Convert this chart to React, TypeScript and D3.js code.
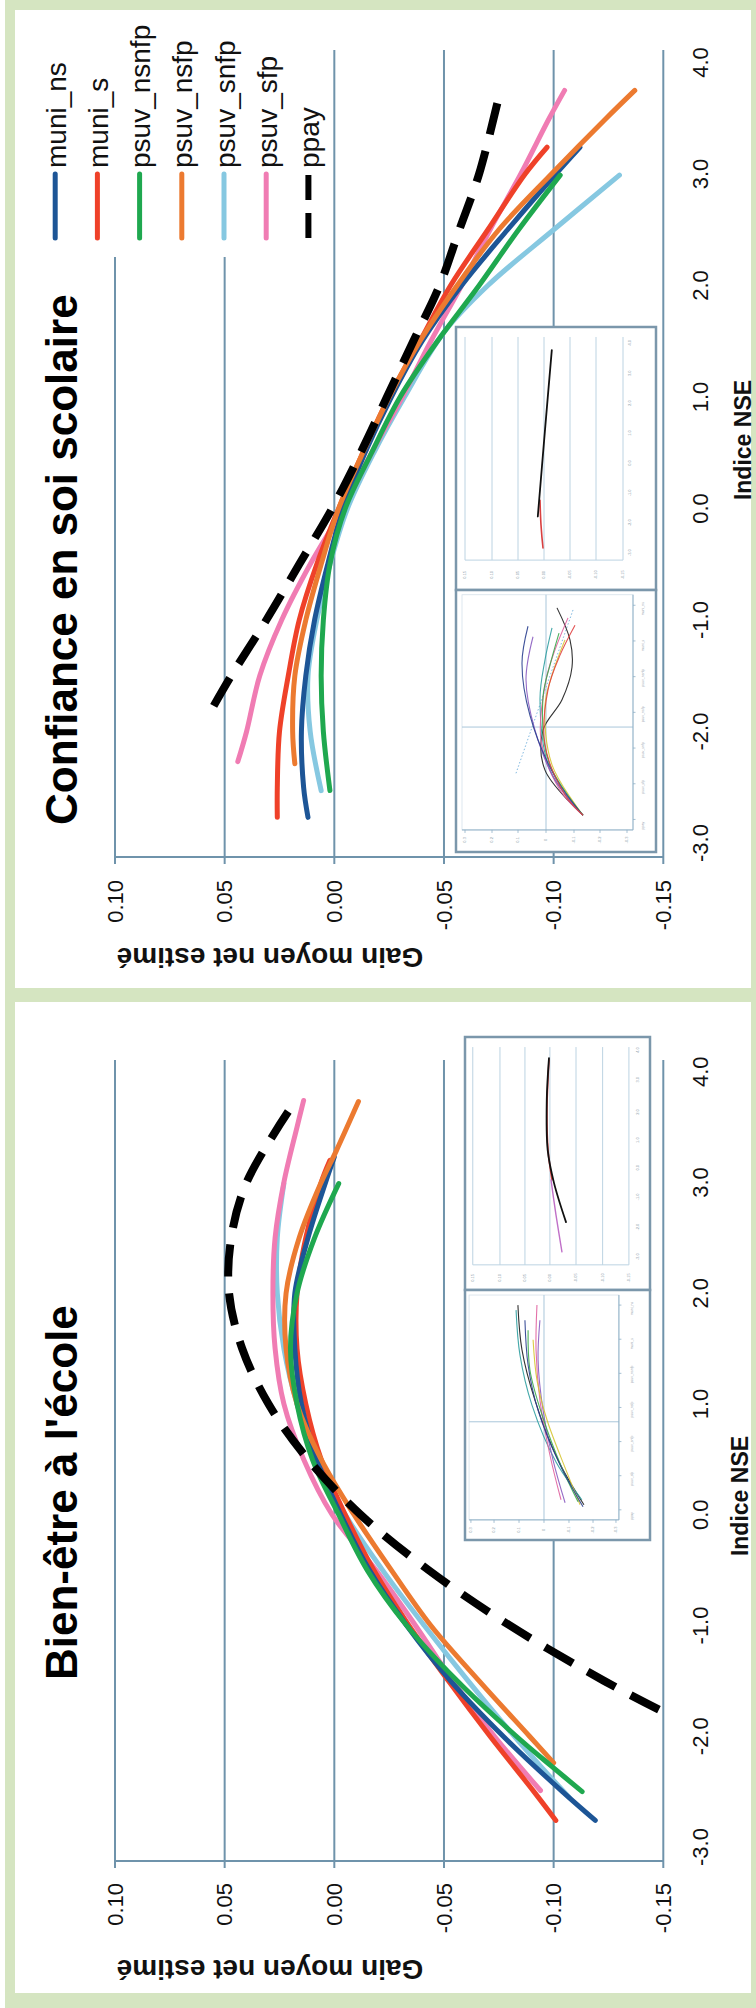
import React from 'react';
import * as d3 from 'd3';

const WIDTH = 756;
const HEIGHT = 2008;
const FONT = "'Liberation Sans', Arial, Helvetica, sans-serif";

type Pt = [number, number];

const NSE_TICKS = [-3, -2, -1, 0, 1, 2, 3, 4];
const GAIN_TICKS = [0.1, 0.05, 0, -0.05, -0.1, -0.15];

const SERIES_NAMES = ['muni_ns', 'muni_s', 'psuv_nsnfp', 'psuv_nsfp', 'psuv_snfp', 'psuv_sfp', 'ppay'];
const SERIES_COLORS = ['#1d5596', '#ef4129', '#1fa84f', '#ec7a30', '#86c8e1', '#f07cb3', '#000000'];

// ---- Bien-être à l'école : [Indice NSE, gain moyen net estimé]
const bienMuniNs: Pt[] = [[-2.76, -0.119], [-2.5, -0.104], [-2, -0.077], [-1.5, -0.053], [-1, -0.033], [-0.5, -0.016], [0, -0.003], [0.5, 0.008], [1, 0.015], [1.5, 0.018], [2, 0.018], [2.5, 0.012], [3, 0.004], [3.23, 0.0]];
const bienMuniS: Pt[] = [[-2.76, -0.101], [-2.5, -0.091], [-2, -0.071], [-1.5, -0.052], [-1, -0.034], [-0.5, -0.018], [0, -0.005], [0.5, 0.006], [1, 0.013], [1.5, 0.017], [2, 0.017], [2.5, 0.013], [3, 0.006], [3.2, 0.002]];
const bienPsuvNsnfp: Pt[] = [[-2.5, -0.113], [-2.27, -0.099], [-2, -0.083], [-1.5, -0.056], [-1, -0.033], [-0.5, -0.015], [0, -0.002], [0.5, 0.01], [1, 0.017], [1.5, 0.02], [2, 0.017], [2.5, 0.009], [2.99, -0.002]];
const bienPsuvNsfp: Pt[] = [[-2.24, -0.1], [-2, -0.089], [-1.5, -0.066], [-1, -0.044], [-0.5, -0.026], [0, -0.009], [0.5, 0.006], [1, 0.017], [1.5, 0.022], [2, 0.022], [2.5, 0.016], [3, 0.006], [3.29, -0.001], [3.73, -0.011]];
const bienPsuvSnfp: Pt[] = [[-2.55, -0.107], [-2.27, -0.094], [-2, -0.082], [-1.5, -0.061], [-1, -0.041], [-0.5, -0.022], [0, -0.005], [0.5, 0.008], [1, 0.017], [1.5, 0.023], [2, 0.026], [2.5, 0.026], [2.99, 0.023]];
const bienPsuvSfp: Pt[] = [[-2.49, -0.094], [-2, -0.073], [-1.5, -0.054], [-1, -0.037], [-0.5, -0.019], [0, 0.001], [0.5, 0.014], [1, 0.023], [1.5, 0.027], [2, 0.028], [2.5, 0.027], [3, 0.023], [3.5, 0.017], [3.74, 0.014]];
const bienPpay: Pt[] = [[-1.76, -0.148], [-1.5, -0.123], [-1, -0.08], [-0.5, -0.043], [0, -0.012], [0.5, 0.012], [1, 0.03], [1.5, 0.042], [2, 0.048], [2.5, 0.047], [3, 0.04], [3.64, 0.021]];

// ---- Confiance en soi scolaire
const confMuniNs: Pt[] = [[-2.77, 0.012], [-2.5, 0.014], [-2, 0.015], [-1.5, 0.013], [-1, 0.009], [-0.5, 0.003], [0, -0.004], [0.5, -0.014], [1, -0.026], [1.5, -0.04], [2, -0.058], [2.5, -0.079], [3, -0.101], [3.24, -0.112]];
const confMuniS: Pt[] = [[-2.77, 0.026], [-2.5, 0.026], [-2, 0.025], [-1.5, 0.021], [-1, 0.016], [-0.5, 0.008], [0, -0.002], [0.5, -0.013], [1, -0.025], [1.5, -0.039], [2, -0.053], [2.5, -0.07], [3, -0.087], [3.24, -0.097]];
const confPsuvNsnfp: Pt[] = [[-2.53, 0.002], [-2, 0.005], [-1.5, 0.006], [-1, 0.005], [-0.5, 0.002], [0, -0.005], [0.5, -0.017], [1, -0.03], [1.5, -0.047], [2, -0.066], [2.5, -0.084], [2.99, -0.103]];
const confPsuvNsfp: Pt[] = [[-2.29, 0.018], [-2, 0.019], [-1.5, 0.018], [-1, 0.013], [-0.5, 0.006], [0, -0.002], [0.5, -0.013], [1, -0.025], [1.5, -0.039], [2, -0.056], [2.5, -0.075], [3, -0.099], [3.5, -0.124], [3.75, -0.137]];
const confPsuvSnfp: Pt[] = [[-2.53, 0.006], [-2, 0.011], [-1.5, 0.012], [-1, 0.008], [-0.5, 0.002], [0, -0.006], [0.5, -0.018], [1, -0.032], [1.58, -0.05], [2, -0.07], [2.5, -0.1], [2.99, -0.13]];
const confPsuvSfp: Pt[] = [[-2.27, 0.044], [-2, 0.04], [-1.5, 0.034], [-1, 0.024], [-0.5, 0.011], [0, -0.004], [0.5, -0.017], [1, -0.031], [1.5, -0.044], [2, -0.058], [2.5, -0.071], [3, -0.085], [3.5, -0.098], [3.75, -0.105]];
const confPpay: Pt[] = [[-1.77, 0.055], [-1.5, 0.047], [-1, 0.031], [-0.5, 0.016], [0, 0.001], [0.5, -0.012], [1, -0.024], [1.5, -0.036], [2, -0.048], [2.5, -0.057], [3, -0.066], [3.69, -0.075]];

const bienSeries = [bienMuniNs, bienMuniS, bienPsuvNsnfp, bienPsuvNsfp, bienPsuvSnfp, bienPsuvSfp, bienPpay];
const confSeries = [confMuniNs, confMuniS, confPsuvNsnfp, confPsuvNsfp, confPsuvSnfp, confPsuvSfp, confPpay];
const DRAW_ORDER = [4, 5, 1, 0, 3, 2, 6];

// ---- Thumbnail insets (0-100 units inside each inset box)
const INSET_TOP_XTICKS = ['0.15', '0.10', '0.05', '0.00', '-0.05', '-0.10', '-0.15'];
const INSET_TOP_YTICKS = ['4.0', '3.0', '2.0', '1.0', '0.0', '-1.0', '-2.0', '-3.0'];
const INSET_LOW_XTICKS = ['0.3', '0.2', '0.1', '0', '-0.1', '-0.2', '-0.3'];
const INSET_COLORS = ['#1c1c1c', '#2f9ea0', '#e0609f', '#8a5cc0', '#d6c532', '#3aa84a', '#2a3f8f', '#e04040'];

const bienInsetTopBlack: Pt[] = [[45.4, 4.2], [44.2, 12.5], [44.7, 22.5], [48.1, 29.0], [54.6, 36.8]];
const bienInsetTopRed: Pt[] = [[45.4, 4.6], [44.3, 14.5], [44.9, 22.5], [47.0, 28.4]];
const bienInsetTopPink: Pt[] = [[46.5, 28.4], [49.2, 35.4], [52.4, 42.7]];
const bienInsetLow: Pt[][] = [
  [[28.6, 53.3], [30.8, 62.2], [37.8, 72.2], [50.3, 84.1], [64.3, 93.0]],
  [[27.6, 54.3], [29.7, 63.2], [36.2, 73.2], [49.2, 84.5], [63.2, 92.0]],
  [[38.9, 53.3], [38.4, 62.2], [40.5, 72.2], [45.9, 83.1], [51.9, 92.0]],
  [[40.5, 56.3], [39.5, 64.2], [42.2, 74.2], [47.6, 84.1], [54.1, 92.6]],
  [[36.8, 60.2], [38.9, 68.2], [44.3, 76.1], [54.6, 86.1], [62.2, 93.0]],
  [[34.1, 58.3], [35.1, 66.2], [41.6, 75.1], [52.4, 85.7], [61.1, 92.4]],
  [[32.4, 56.3], [34.1, 65.2], [39.5, 74.2], [51.4, 85.1], [63.8, 93.4]],
];
const confInsetTopBlack: Pt[] = [[47.9, 4.4], [44.5, 19.6], [40.9, 36.1]];
const confInsetTopRed: Pt[] = [[42, 33], [42.5, 37.7], [43.5, 42.1]];
const confInsetLow: Pt[][] = [
  [[50.5, 53.5], [57, 59.6], [58, 64.8], [53, 71], [43.5, 76.8], [44.5, 84.4], [63.5, 93]],
  [[48, 57.3], [44.5, 63.4], [42, 71], [47, 84.4], [63.5, 93]],
  [[56, 55.4], [49.5, 61.5], [45, 67.2], [42.5, 78.7], [52, 88.2], [63.5, 93]],
  [[38.5, 59], [35, 67.2], [39.5, 76.8], [49.5, 86.3], [63.5, 93]],
  [[54.5, 59.6], [48.5, 65.7], [44.5, 72], [48, 83.4], [63.5, 93]],
  [[51.5, 58.3], [47, 64.4], [43.5, 70.5], [46.5, 83], [63.5, 93]],
  [[36, 57], [33, 64], [37, 74], [50, 86], [63.5, 93]],
  [[59.5, 56.8], [52, 62.5], [46, 69.1], [44.5, 79.6], [54.5, 89.1], [63.5, 93]],
];
const confInsetDotted: Pt[] = [[58.5, 53.9], [30, 85]];

const fmtGain = (v: number) => (Math.abs(v) < 1e-9 ? '0.00' : v.toFixed(2));
const fmtNse = (v: number) => (Math.abs(v) < 1e-9 ? '0.0' : v.toFixed(1));
const rot = (x: number, y: number, a: number) => `translate(${x},${y}) rotate(${a})`;

type InsetCfg = {
  x0: number; y0: number; w: number; h: number; split: number;
  gridU: number[]; gridV: [number, number]; botLabV: number; rightU: number; rightV: number[];
  frameU: [number, number]; frameV: [number, number]; hV: number; vU: number; lowLabV: number; lowLabU: number[]; legU: number;
  topLines: { pts: Pt[]; color: string; width: number }[];
  lowLines: Pt[][];
  dotted?: Pt[];
};

function Inset({ c }: { c: InsetCfg }) {
  const u = d3.scaleLinear().domain([0, 100]).range([c.x0, c.x0 + c.w]);
  const v = d3.scaleLinear().domain([0, 100]).range([c.y0, c.y0 + c.h]);
  const line = d3.line<Pt>().x(d => u(d[0])).y(d => v(d[1])).curve(d3.curveCatmullRom.alpha(0.5));
  const splitY = v(c.split);
  const legTicks = d3.range(7).map(i => v(c.frameV[0] + 2 + i * ((c.frameV[1] - c.frameV[0] - 4) / 6)));
  return (
    <g>
      <rect x={c.x0} y={c.y0} width={c.w} height={splitY - c.y0} fill="#fff" stroke="#7b97ab" strokeWidth={2.5} />
      <rect x={c.x0} y={splitY} width={c.w} height={c.y0 + c.h - splitY} fill="#fff" stroke="#7b97ab" strokeWidth={2.5} />
      {c.gridU.map((g, i) => (
        <line key={'g' + i} x1={u(g)} x2={u(g)} y1={v(c.gridV[0])} y2={v(c.gridV[1])} stroke="#bcd3e2" strokeWidth={1} />
      ))}
      <line x1={u(c.gridU[0])} x2={u(c.gridU[c.gridU.length - 1])} y1={v(c.gridV[1])} y2={v(c.gridV[1])} stroke="#bcd3e2" strokeWidth={1} />
      {c.gridU.map((g, i) => (
        <text key={'bl' + i} transform={rot(u(g), v(c.botLabV), -90)} textAnchor="middle" dy="0.35em" fontSize={4} fill="#8a9aa8" fontFamily={FONT}>{INSET_TOP_XTICKS[i]}</text>
      ))}
      {c.rightV.map((r, i) => (
        <text key={'rl' + i} transform={rot(u(c.rightU), v(r), -90)} textAnchor="middle" fontSize={4} fill="#8a9aa8" fontFamily={FONT}>{INSET_TOP_YTICKS[i]}</text>
      ))}
      {c.topLines.map((l, i) => (
        <path key={'tl' + i} d={line(l.pts) || ''} fill="none" stroke={l.color} strokeWidth={l.width} strokeLinecap="round" />
      ))}
      <rect x={u(c.frameU[0])} y={v(c.frameV[0])} width={u(c.frameU[1]) - u(c.frameU[0])} height={v(c.frameV[1]) - v(c.frameV[0])} fill="none" stroke="#d5e1ea" strokeWidth={0.8} />
      <line x1={u(c.frameU[0])} x2={u(c.frameU[1])} y1={v(c.hV)} y2={v(c.hV)} stroke="#a9c6da" strokeWidth={1} />
      <line x1={u(c.vU)} x2={u(c.vU)} y1={v(c.frameV[0])} y2={v(c.frameV[1])} stroke="#a9c6da" strokeWidth={1} />
      <line x1={u(c.frameU[0])} x2={u(c.frameU[1])} y1={v(c.frameV[1])} y2={v(c.frameV[1])} stroke="#8fb0c6" strokeWidth={1} />
      <line x1={u(c.frameU[1])} x2={u(c.frameU[1])} y1={v(c.frameV[0])} y2={v(c.frameV[1])} stroke="#8fb0c6" strokeWidth={1} />
      {c.lowLabU.map((g, i) => (
        <g key={'ll' + i}>
          <line x1={u(g)} x2={u(g)} y1={v(c.frameV[1])} y2={v(c.frameV[1]) + 3} stroke="#8fb0c6" strokeWidth={0.8} />
          <text transform={rot(u(g), v(c.lowLabV), -90)} textAnchor="middle" dy="0.35em" fontSize={4} fill="#8a9aa8" fontFamily={FONT}>{INSET_LOW_XTICKS[i]}</text>
        </g>
      ))}
      {legTicks.map((t, i) => (
        <g key={'lg' + i}>
          <line x1={u(c.frameU[1])} x2={u(c.frameU[1]) + 2.5} y1={t} y2={t} stroke="#8fb0c6" strokeWidth={0.8} />
          <text transform={rot(u(c.legU), t + 10, -90)} textAnchor="start" fontSize={3.5} fill="#9aa6b0" fontFamily={FONT}>{SERIES_NAMES[i]}</text>
        </g>
      ))}
      {c.dotted && (
        <path d={line(c.dotted) || ''} fill="none" stroke="#7fb8e0" strokeWidth={1} strokeDasharray="1.5 2" />
      )}
      {c.lowLines.map((pts, i) => (
        <path key={'lw' + i} d={line(pts) || ''} fill="none" stroke={INSET_COLORS[i % INSET_COLORS.length]} strokeWidth={1.1} opacity={0.9} />
      ))}
    </g>
  );
}

export default function App() {
  const gainX = d3.scaleLinear().domain([0.1, -0.15]).range([115, 663.3]);

  const panels = [
    {
      title: 'Confiance en soi scolaire', series: confSeries,
      nse: d3.scaleLinear().domain([-3, 4]).range([843, 62.5]),
      top: 50, axis: 857, tickY: 880, titleY: 825, nseLabelY: 440, nseLabelX: 751, gainLabelY: 948,
    },
    {
      title: "Bien-être à l'école", series: bienSeries,
      nse: d3.scaleLinear().domain([-3, 4]).range([1847, 1071.7]),
      top: 1060, axis: 1861, tickY: 1883, titleY: 1680, nseLabelY: 1496, nseLabelX: 748, gainLabelY: 1960,
    },
  ];

  const bienInset: InsetCfg = {
    x0: 465, y0: 1037, w: 185, h: 503, split: 50.3,
    gridU: [4.2, 18.9, 32.4, 45.9, 60, 74.4, 88.6], gridV: [2, 45.3], botLabV: 47.9, rightU: 94,
    rightV: [2.6, 8.5, 14.9, 20.5, 26.0, 31.8, 37.8, 43.7],
    frameU: [2.2, 83.2], frameV: [51.3, 96], hV: 76.5, vU: 42.7, lowLabV: 98,
    lowLabU: [3.2, 15.7, 29.2, 42.7, 56.2, 69.2, 81.6], legU: 91,
    topLines: [
      { pts: bienInsetTopRed, color: '#d94040', width: 1.6 },
      { pts: bienInsetTopPink, color: '#c070c8', width: 1.4 },
      { pts: bienInsetTopBlack, color: '#111', width: 1.8 },
    ],
    lowLines: bienInsetLow,
  };
  const confInset: InsetCfg = {
    x0: 456, y0: 327, w: 200, h: 525, split: 50.1,
    gridU: [4.5, 18, 31, 44, 57, 70, 83.5], gridV: [1.9, 44.4], botLabV: 47.2, rightU: 87.5,
    rightV: [3.0, 8.8, 14.5, 20.2, 25.9, 31.6, 37.3, 43.0],
    frameU: [3, 88.5], frameV: [51, 95.8], hV: 76.2, vU: 45, lowLabV: 97.7,
    lowLabU: [4.5, 18, 31, 45, 59, 72, 85.5], legU: 94,
    topLines: [
      { pts: confInsetTopRed, color: '#d94040', width: 1.6 },
      { pts: confInsetTopBlack, color: '#111', width: 1.8 },
    ],
    lowLines: confInsetLow,
    dotted: confInsetDotted,
  };

  return (
    <svg width={WIDTH} height={HEIGHT} viewBox={`0 0 ${WIDTH} ${HEIGHT}`}
      style={{ position: 'absolute', left: 0, top: 0, display: 'block' }} fontFamily={FONT}>
      <rect x={0} y={0} width={WIDTH} height={HEIGHT} fill="#ffffff" />
      <rect x={5} y={0} width={WIDTH - 5} height={HEIGHT} fill="#d5e5c1" />
      <rect x={15} y={10} width={736} height={978} fill="#ffffff" />
      <rect x={15} y={1002} width={736} height={991} fill="#ffffff" />

      {panels.map((p, pi) => {
        const line = d3.line<Pt>().x(d => gainX(d[1])).y(d => p.nse(d[0])).curve(d3.curveCatmullRom.alpha(0.5));
        return (
          <g key={pi}>
            {GAIN_TICKS.map((t, i) => (
              <line key={'gr' + i} x1={gainX(t)} x2={gainX(t)} y1={p.top} y2={p.axis} stroke="#6f93ab" strokeWidth={2} />
            ))}
            <line x1={gainX(0.1)} x2={gainX(-0.15)} y1={p.axis} y2={p.axis} stroke="#6f93ab" strokeWidth={2.2} />
            {GAIN_TICKS.map((t, i) => (
              <line key={'tk' + i} x1={gainX(t)} x2={gainX(t)} y1={p.axis} y2={p.axis + 7} stroke="#6f93ab" strokeWidth={2} />
            ))}
            {GAIN_TICKS.map((t, i) => (
              <text key={'tl' + i} transform={rot(gainX(t), p.tickY, -90)} textAnchor="end" dy="0.35em" fontSize={22} fill="#111">{fmtGain(t)}</text>
            ))}
            {NSE_TICKS.map((t, i) => (
              <text key={'nl' + i} transform={rot(708, p.nse(t), -90)} textAnchor="middle" fontSize={22} fill="#111">{fmtNse(t)}</text>
            ))}
            <text transform={rot(p.nseLabelX, p.nseLabelY, -90)} textAnchor="middle" fontSize={23} fontWeight="bold" fill="#111">Indice NSE</text>
            <text transform={rot(270, p.gainLabelY, 180)} textAnchor="middle" fontSize={28} fontWeight="bold" fill="#111">Gain moyen net estimé</text>
            <text transform={rot(77, p.titleY, -90)} textAnchor="start" fontSize={44} fontWeight="bold" fill="#000">{p.title}</text>

            <Inset c={pi === 0 ? confInset : bienInset} />

            {DRAW_ORDER.map(si => {
              const isPpay = si === 6;
              return (
                <path key={'s' + si} d={line(p.series[si]) || ''} fill="none" stroke={SERIES_COLORS[si]}
                  strokeWidth={isPpay ? 8 : 5} strokeLinecap={isPpay ? 'butt' : 'round'}
                  strokeDasharray={isPpay ? '32 17' : undefined} />
              );
            })}
          </g>
        );
      })}

      <rect x={15} y={10} width={308} height={247} fill="#ffffff" />
      {SERIES_NAMES.map((n, i) => {
        const cx = 55.2 + i * 42.2;
        const isPpay = i === 6;
        return (
          <g key={'lg' + i}>
            <line x1={cx} x2={cx} y1={238} y2={174} stroke={SERIES_COLORS[i]} strokeWidth={isPpay ? 6 : 5}
              strokeLinecap={isPpay ? 'butt' : 'round'} strokeDasharray={isPpay ? '25 13' : undefined} />
            <text transform={rot(cx, 168, -90)} textAnchor="start" dy="0.38em" fontSize={28} fill="#111">{n}</text>
          </g>
        );
      })}
    </svg>
  );
}
